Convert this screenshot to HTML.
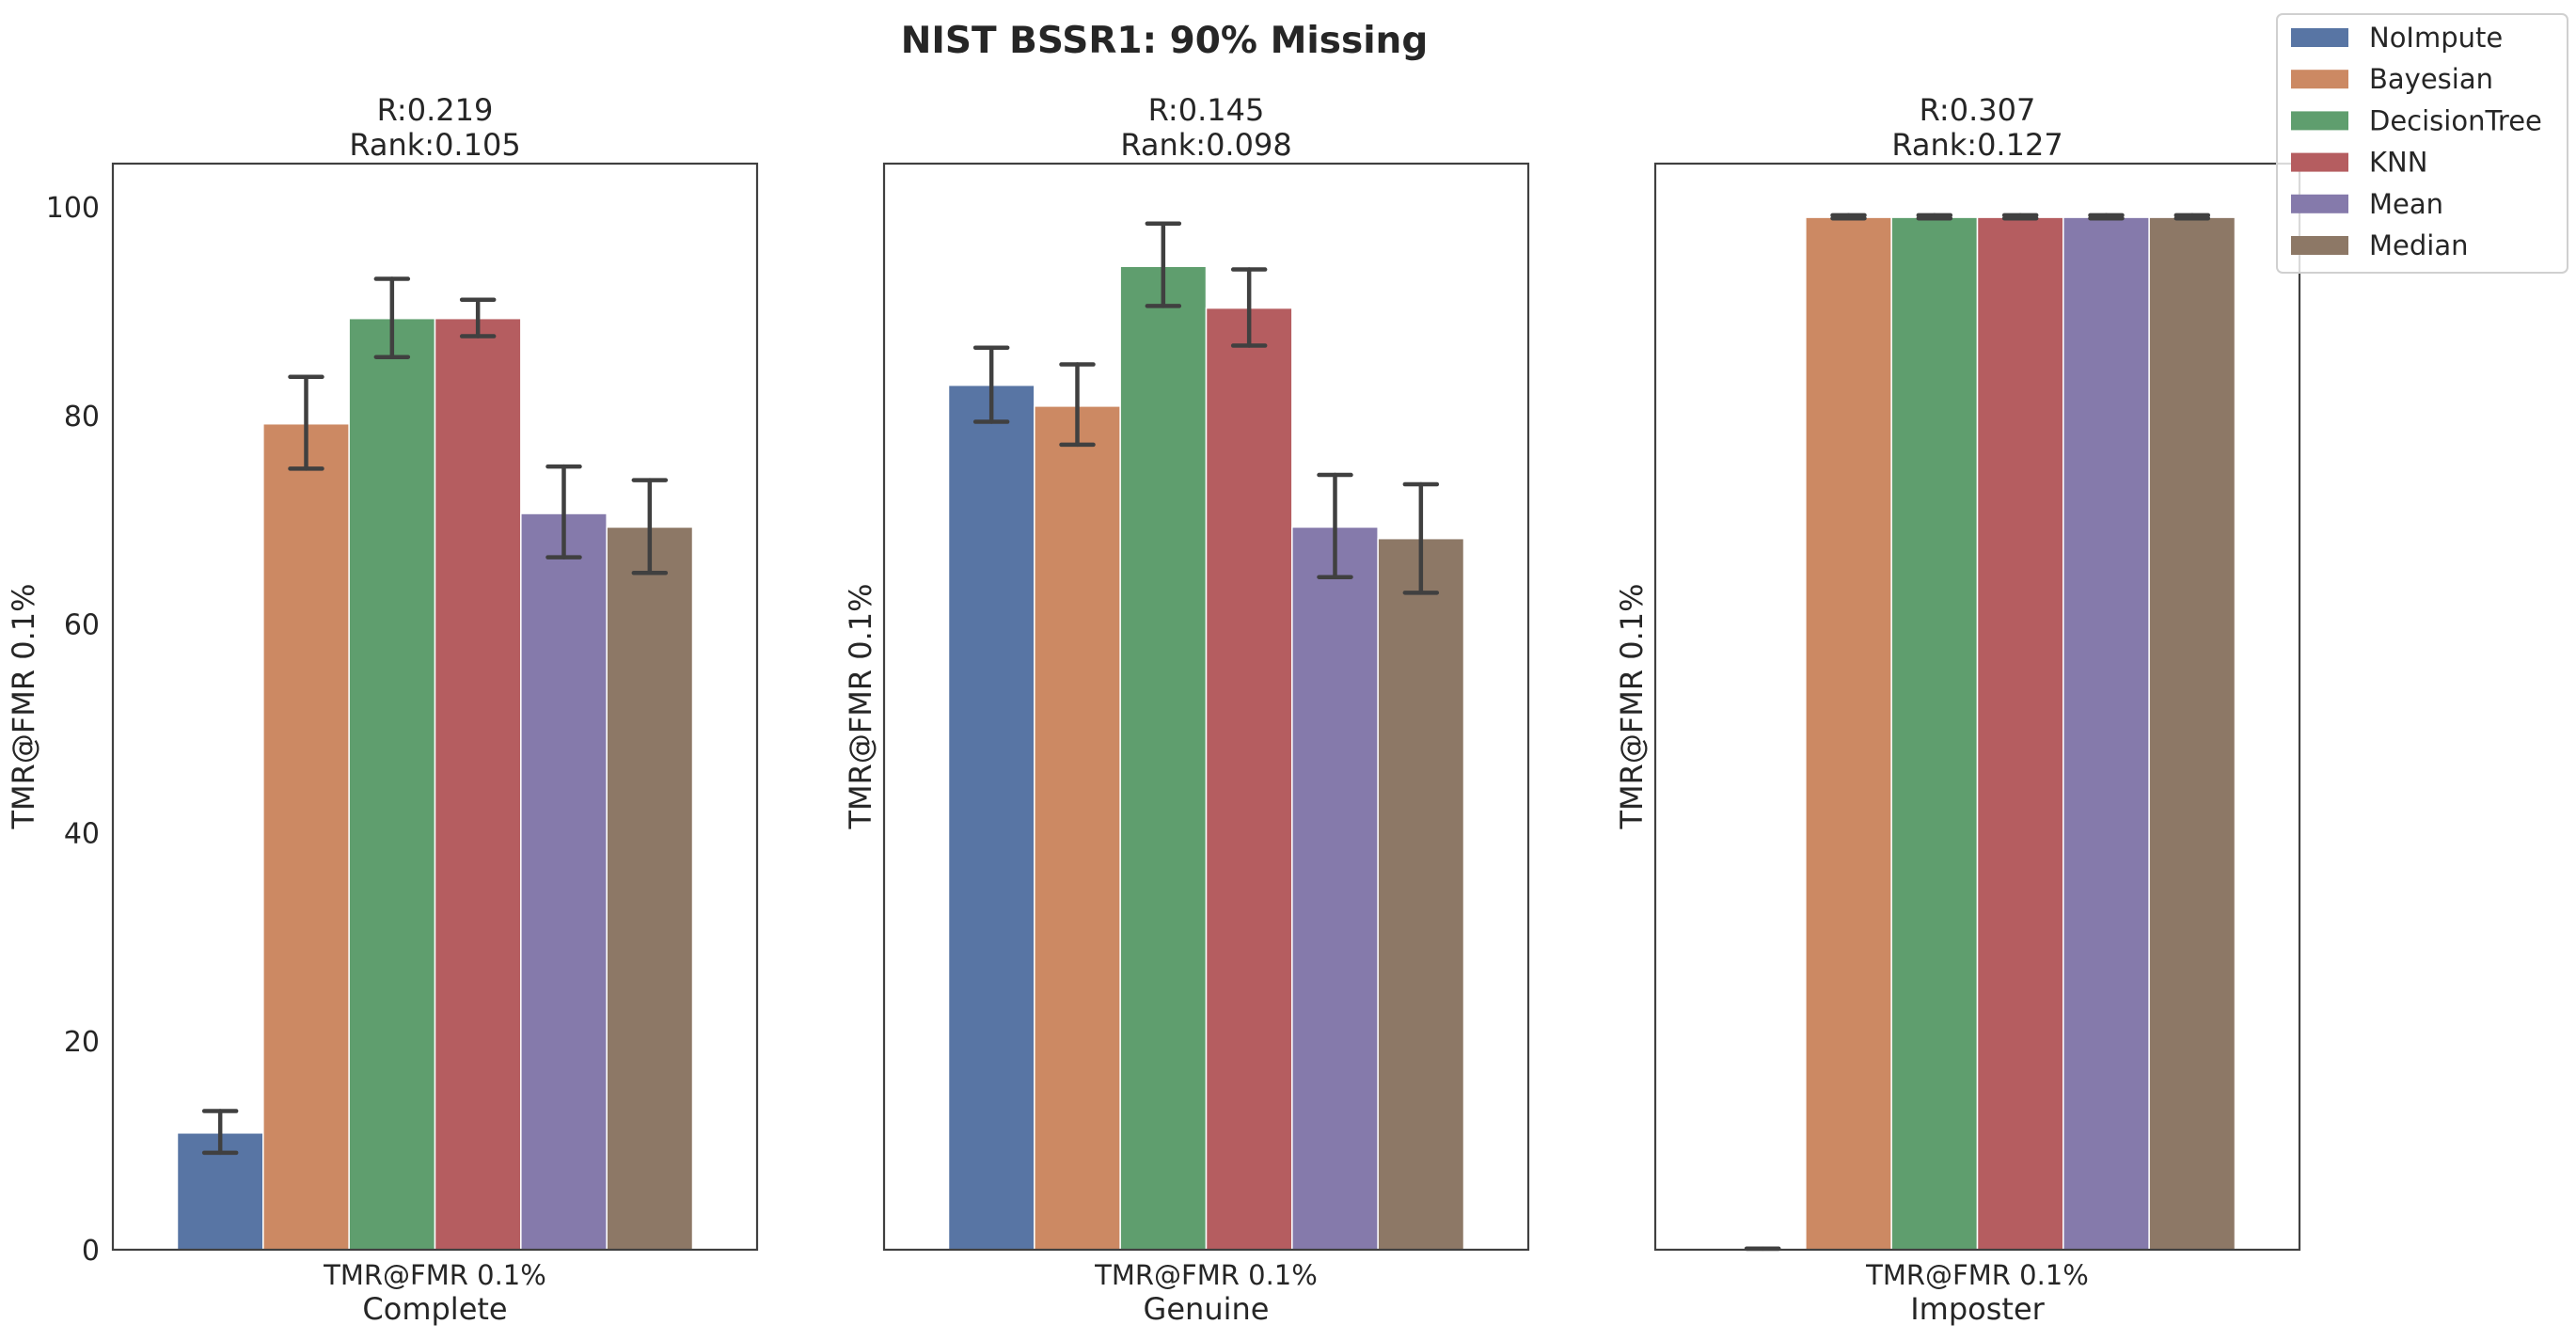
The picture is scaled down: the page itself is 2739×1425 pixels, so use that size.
<!DOCTYPE html>
<html><head><meta charset="utf-8"><style>
html,body{margin:0;padding:0;background:#fff;}
svg text{font-family:"DejaVu Sans","Liberation Sans",sans-serif;fill:#262626;}
</style></head><body>
<svg id="chart" width="2739" height="1420" viewBox="0 0 2739 1420" xmlns="http://www.w3.org/2000/svg">
<text x="1238" y="56" font-size="39" font-weight="bold" text-anchor="middle">NIST BSSR1: 90% Missing</text>
<g id="panels"></g>
<g id="legend"></g>
</svg>
<script>
const panels = ["Complete", "Genuine", "Imposter"];
const rValues = ["0.219", "0.145", "0.307"];
const rankValues = ["0.105", "0.098", "0.127"];
const methods = ["NoImpute", "Bayesian", "DecisionTree", "KNN", "Mean", "Median"];
const colors = ["#5875a4", "#cc8963", "#5f9e6e", "#b55d60", "#857aab", "#8d7866"];
const completeVals = [11.2, 79.2, 89.3, 89.3, 70.6, 69.3];
const completeLo = [9.3, 74.9, 85.6, 87.6, 66.4, 64.9];
const completeHi = [13.3, 83.7, 93.1, 91.1, 75.1, 73.8];
const genuineVals = [82.9, 80.9, 94.3, 90.3, 69.3, 68.2];
const genuineLo = [79.4, 77.2, 90.5, 86.7, 64.5, 63.0];
const genuineHi = [86.5, 84.9, 98.4, 94.0, 74.3, 73.4];
const imposterVals = [0.1, 99.0, 99.0, 99.0, 99.0, 99.0];
const imposterLo = [0.1, 98.9, 98.9, 98.9, 98.9, 98.9];
const imposterHi = [0.1, 99.2, 99.2, 99.2, 99.2, 99.2];
const yTicks = [0, 20, 40, 60, 80, 100];

const vals = [completeVals, genuineVals, imposterVals];
const los = [completeLo, genuineLo, imposterLo];
const his = [completeHi, genuineHi, imposterHi];

const NS = "http://www.w3.org/2000/svg";
const axTop = 174, axBot = 1329, axW = 685, yMax = 104.15;
const axLefts = [120, 940, 1760];
function y(v){ return axBot - v/yMax*(axBot-axTop); }
function mk(tag, attrs, parent, text){
  const e = document.createElementNS(NS, tag);
  for (const k in attrs) e.setAttribute(k, attrs[k]);
  if (text !== undefined) e.textContent = text;
  parent.appendChild(e); return e;
}
const root = document.getElementById("panels");
panels.forEach((p, pi) => {
  const L = axLefts[pi], cx = L + axW/2;
  const g = mk("g", {}, root);
  
  
  const groupW = axW*0.8, bw = groupW/methods.length, x0 = cx - groupW/2;
  vals[pi].forEach((v, i) => {
    const r = mk("rect", {x: x0 + i*bw, y: y(v), width: bw, height: y(0)-y(v), fill: colors[i], stroke: "#fff", "stroke-width": 1.5}, g);
    
    
    const bx = x0 + i*bw + bw/2;
    const eg = mk("g", {stroke: "#404040", "stroke-width": 4.5, "stroke-linecap": "round"}, g);
    
    
    mk("line", {x1: bx, x2: bx, y1: y(los[pi][i]), y2: y(his[pi][i])}, eg);
    mk("line", {x1: bx-17, x2: bx+17, y1: y(los[pi][i]), y2: y(los[pi][i])}, eg);
    mk("line", {x1: bx-17, x2: bx+17, y1: y(his[pi][i]), y2: y(his[pi][i])}, eg);
  });
  const fr = mk("rect", {x: L, y: axTop, width: axW, height: axBot-axTop, fill: "none", stroke: "#404040", "stroke-width": 2.2}, g);
  
  
  const t1 = mk("text", {x: cx, y: 128, "font-size": 32, "text-anchor": "middle"}, g, "R:" + rValues[pi]);
  
  
  const t2 = mk("text", {x: cx, y: 165, "font-size": 32, "text-anchor": "middle"}, g, "Rank:" + rankValues[pi]);
  
  
  const xt = mk("text", {x: cx, y: 1366, "font-size": 29, "text-anchor": "middle"}, g, "TMR@FMR 0.1%");
  
  
  const xl = mk("text", {x: cx, y: 1403, "font-size": 32, "text-anchor": "middle"}, g, p);
  
  
  const ylx = pi === 0 ? 36 : L - 14;
  const yl = mk("text", {x: 0, y: 0, "font-size": 32, "text-anchor": "middle", transform: "translate(" + ylx + ",751) rotate(-90)"}, g, "TMR@FMR 0.1%");
  
  
  if (pi === 0) {
    yTicks.forEach(t => {
      const tl = mk("text", {x: L-14, y: y(t)+11, "font-size": 30, "text-anchor": "end"}, g, String(t));
      
      
    });
  }
});
const lg = document.getElementById("legend");
const lb = mk("rect", {x: 2421, y: 15, width: 309, height: 275, rx: 6, fill: "#fff", "fill-opacity": 0.8, stroke: "#d0d0d0", "stroke-width": 2}, lg);


methods.forEach((m, i) => {
  const cy = 40 + i*44.2;
  const eg = mk("g", {}, lg);
  
  
  mk("rect", {x: 2436, y: cy-10, width: 61, height: 20, fill: colors[i]}, eg);
  mk("text", {x: 2519, y: cy+10, "font-size": 29}, eg, m);
});
</script>
</body></html>
